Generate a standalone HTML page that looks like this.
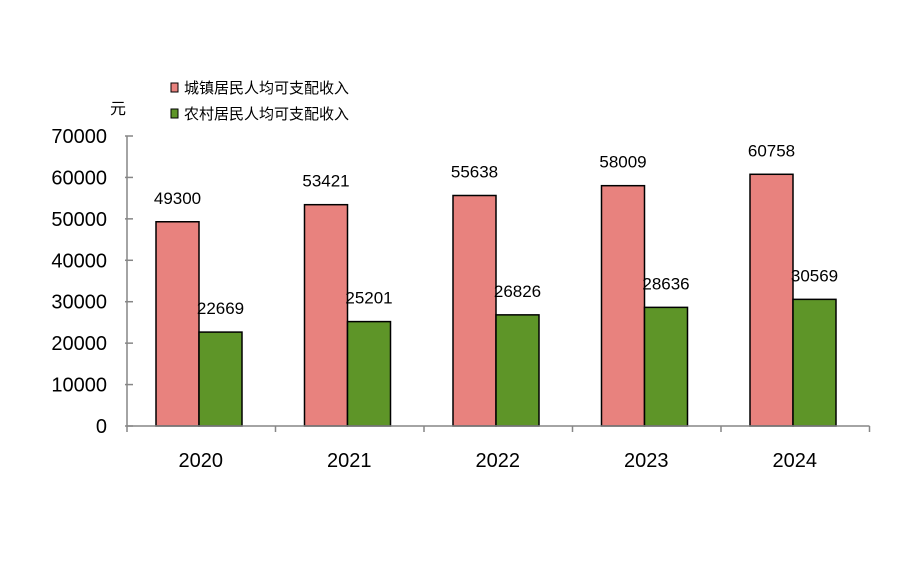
<!DOCTYPE html>
<html><head><meta charset="utf-8"><style>
body{margin:0;background:#fff;}
svg text{font-family:"Liberation Sans","Noto Sans CJK SC",sans-serif;}
</style></head><body>
<svg id="chart" width="921" height="557" viewBox="0 0 921 557">
<rect x="0" y="0" width="921" height="557" fill="#fff"/>
<g>
<rect x="171" y="83" width="7" height="9" fill="#e8827e" stroke="#000" stroke-width="1"/>
<text x="184" y="93" font-size="15" fill="#000">城镇居民人均可支配收入</text>
<rect x="171" y="109" width="7" height="9" fill="#5e9528" stroke="#000" stroke-width="1"/>
<text x="184" y="119" font-size="15" fill="#000">农村居民人均可支配收入</text>
</g>
<text x="110" y="114" font-size="16" fill="#000">元</text>
<g id="yaxis"></g><g id="bars"></g><g id="xaxis"></g>
</svg>
<script>
const categories=["2020","2021","2022","2023","2024"];
const urban=[49300,53421,55638,58009,60758];
const rural=[22669,25201,26826,28636,30569];
const yTicks=[0,10000,20000,30000,40000,50000,60000,70000];
const NS="http://www.w3.org/2000/svg";
const x0=127,step=148.5,y0=426,yMax=70000,yTop=136;
const yScale=v=>y0-(v/yMax)*(y0-yTop);
const xCat=i=>x0+i*step;
function mk(tag,attrs,parent,text){const e=document.createElementNS(NS,tag);for(const k in attrs)e.setAttribute(k,attrs[k]);if(text!==undefined)e.textContent=text;parent.appendChild(e);return e;}
const ya=document.getElementById('yaxis'),bg=document.getElementById('bars'),xa=document.getElementById('xaxis');
const axl=mk('line',{x1:x0,y1:yScale(yMax),x2:x0,y2:y0,stroke:'#868686','stroke-width':1.5},ya);


yTicks.forEach(t=>{
 const tl=mk('line',{x1:x0-2,x2:x0+6,y1:yScale(t),y2:yScale(t),stroke:'#868686','stroke-width':1.5},ya);
 
 
 const tx=mk('text',{x:107,y:yScale(t)+7,'font-size':20,'text-anchor':'end',fill:'#000'},ya,String(t));
 
 
});
const xl=mk('line',{x1:x0,x2:x0+5*step,y1:y0,y2:y0,stroke:'#868686','stroke-width':1.5},xa);


for(let i=0;i<=5;i++){const t=mk('line',{x1:xCat(i),x2:xCat(i),y1:y0,y2:y0+6,stroke:'#868686','stroke-width':1.5},xa);
 
 }
categories.forEach((c,i)=>{
 const cx=xCat(i);
 const l=mk('text',{x:cx+step/2-0.5,y:467,'font-size':20,'text-anchor':'middle',fill:'#000'},xa,c);
 
 
 const bw=43,bx=cx+29;
 const r=mk('rect',{x:bx,y:yScale(urban[i]),width:bw,height:y0-yScale(urban[i]),fill:'#e8827e',stroke:'#000','stroke-width':1.5},bg);
 
 
 const g=mk('rect',{x:bx+bw,y:yScale(rural[i]),width:bw,height:y0-yScale(rural[i]),fill:'#5e9528',stroke:'#000','stroke-width':1.5},bg);
 
 
 const ul=mk('text',{x:bx+bw/2,y:yScale(urban[i])-18,'font-size':17,'text-anchor':'middle',fill:'#000'},bg,String(urban[i]));
 
 
 const rl=mk('text',{x:bx+bw*1.5,y:yScale(rural[i])-18,'font-size':17,'text-anchor':'middle',fill:'#000'},bg,String(rural[i]));
 
 
});
</script>
</body></html>
